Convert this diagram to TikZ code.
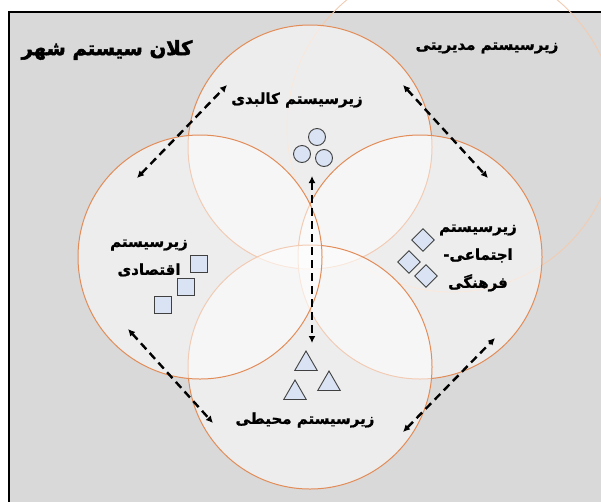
\documentclass[tikz,border=0pt]{standalone}
\usepackage{fontspec}
\newfontfamily\arabicfont[Script=Arabic,FakeBold=1.2]{DejaVu Sans Bold}
\newfontfamily\arabicheavy[Script=Arabic,FakeBold=2.5]{DejaVu Sans Bold}
\TeXXeTstate=1
\usetikzlibrary{positioning,arrows.meta,shapes.geometric}
\definecolor{bggrey}{RGB}{217,217,217}
\definecolor{ringorange}{RGB}{226,140,88}
\definecolor{ringpale}{RGB}{242,204,178}
\definecolor{itemblue}{RGB}{218,227,243}
\definecolor{itemline}{RGB}{64,64,64}
\begin{document}
\begin{tikzpicture}
		[x=1pt,y=-1pt,
		ring/.style={draw=ringorange,line width=1pt,fill=white,fill opacity=0.55},
		paleRing/.style={draw=ringpale,line width=0.9pt},
		label/.style={font=\arabicfont\bfseries\fontsize{15}{28}\selectfont,align=center,inner sep=0pt},
		title/.style={font=\arabicheavy\bfseries\fontsize{19.5}{24}\selectfont,inner sep=0pt},
		item/.style={draw=itemline,fill=itemblue,line width=0.9pt,inner sep=0pt},
		dot/.style={item,circle,minimum size=17pt},
		box/.style={item,rectangle,minimum size=17pt},
		gem/.style={item,diamond,minimum size=23pt},
		tri/.style={item,regular polygon,regular polygon sides=3,minimum size=26pt},
		link/.style={line width=2.4pt,dash pattern=on 8pt off 5pt,{Latex[length=7pt,width=7pt]}-{Latex[length=7pt,width=7pt]}}]
		\useasboundingbox (0,0) rectangle (601,501);
		\clip (0,0) rectangle (601,501);
		\fill[white] (0,0) rectangle (601,501);
		\draw[line width=2.5pt,fill=bggrey] (9,12) rectangle (640,540);
		\draw[paleRing] (452,127) circle[radius=165];
		\draw[ring] (310,147) circle[radius=122];
		\draw[ring] (420,257) circle[radius=122];
		\draw[ring] (310,367) circle[radius=122];
		\draw[ring] (200,257) circle[radius=122];
		\node[title] (city) at (107,50) {\beginR کلان سیستم شهر\endR};
		\node[label] (manage) at (487,48) {\beginR زیرسیستم مدیریتی\endR};
		\node[label] (phys) at (297,100) {\beginR زیرسیستم کالبدی\endR};
		\node[label] (econ) at (149,258) {\beginR زیرسیستم\endR\\\beginR اقتصادی\endR};
		\node[label] (soc) at (478,258) {\beginR زیرسیستم\endR\\\beginR اجتماعی-\endR\\\beginR فرهنگی\endR};
		\node[label] (env) at (305,420) {\beginR زیرسیستم محیطی\endR};
		\node[dot] (c1) at (317,137) {};
		\node[dot] (c2) at (302,154) {};
		\node[dot] (c3) at (324,158) {};
		\node[box] (s1) at (199,264) {};
		\node[box] (s2) at (186,287) {};
		\node[box] (s3) at (163,305) {};
		\node[gem] (d1) at (423,240) {};
		\node[gem] (d2) at (409,262) {};
		\node[gem] (d3) at (426,276) {};
		\node[tri] (t1) at (306,364) {};
		\node[tri] (t2) at (295,393) {};
		\node[tri] (t3) at (329,384) {};
		\coordinate (tlA) at (137,178);
		\coordinate (tlB) at (227,85);
		\coordinate (trA) at (403,85);
		\coordinate (trB) at (488,178);
		\coordinate (blA) at (128,329);
		\coordinate (blB) at (213,423);
		\coordinate (brA) at (403,432);
		\coordinate (brB) at (495,338);
		\coordinate (vA) at (312,176);
		\coordinate (vB) at (312,343);
		\draw[link] (tlA) -- (tlB);
		\draw[link] (trA) -- (trB);
		\draw[link] (blA) -- (blB);
		\draw[link] (brA) -- (brB);
		\draw[link,line width=2pt] (vA) -- (vB);
\end{tikzpicture}
\end{document}
